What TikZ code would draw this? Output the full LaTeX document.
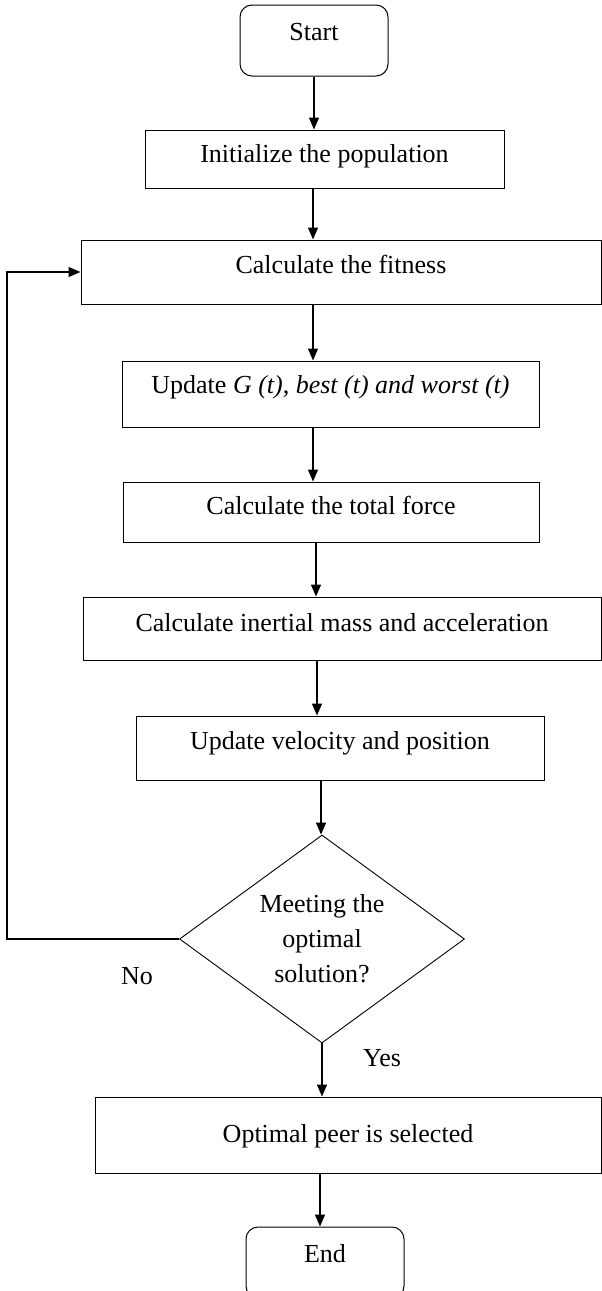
\documentclass[tikz,border=0pt]{standalone}
\usepackage{fontspec}
\setmainfont{Liberation Serif}
\usetikzlibrary{shapes.geometric,arrows.meta}

\begin{document}
\begin{tikzpicture}[x=1pt, y=-1pt,
  every node/.style={font=\fontsize{26}{35}\selectfont},
  procbox/.style={draw, line width=1pt, inner sep=0pt, text height=20pt},
  termbox/.style={procbox, rounded corners=12pt},
  arr/.style={line width=1.4pt, -{Triangle[length=12pt,width=10pt]}}]
  \clip (0,0) rectangle (602,1291);
  \node[termbox, minimum width=148pt, minimum height=71pt, text depth=20pt] (start) at (314,40.5) {Start};
  \node[procbox, minimum width=359pt, minimum height=58pt, text depth=13pt] (init) at (324.5,159) {Initialize the population};
  \node[procbox, minimum width=520pt, minimum height=64pt, text depth=18pt] (fit) at (341,272) {Calculate the fitness};
  \node[procbox, minimum width=417pt, minimum height=66pt, text depth=22pt] (upd) at (330.5,394) {Update \textit{G (t), best (t) and worst (t)}};
  \node[procbox, minimum width=416pt, minimum height=60pt, text depth=15pt] (force) at (331,512) {Calculate the total force};
  \node[procbox, minimum width=518pt, minimum height=63pt, text depth=15pt] (mass) at (342,628.5) {Calculate inertial mass and acceleration};
  \node[procbox, minimum width=408pt, minimum height=64pt, text depth=17pt] (vel) at (340,748) {Update velocity and position};
  \node[draw, diamond, line width=0.9pt, inner sep=0pt, aspect=1.37, align=center,
        minimum width=285pt, minimum height=208pt] (dec) at (322,939) {Meeting the\\optimal\\solution?};
  \node[procbox, minimum width=506pt, minimum height=76pt, text depth=5pt] (peer) at (348,1135) {Optimal peer is selected};
  \node[termbox, minimum width=158pt, minimum height=71pt, text depth=20pt] (end) at (325,1262.5) {End};
  \node (no) at (137,976) {No};
  \node (yes) at (382,1058) {Yes};
  \coordinate (loop) at (7,939);
  % main flow
  \draw[arr] (start.south) -- (start.south |- init.north);
  \draw[arr] (init.south -| 313,0) -- (fit.north -| 313,0);
  \draw[arr] (fit.south -| 313,0) -- (upd.north -| 313,0);
  \draw[arr] (upd.south -| 313,0) -- (force.north -| 313,0);
  \draw[arr] (force.south -| 316,0) -- (mass.north -| 316,0);
  \draw[arr] (mass.south -| 317,0) -- (vel.north -| 317,0);
  \draw[arr] (vel.south -| 321,0) -- (dec.north -| 321,0);
  \draw[arr] (dec.south) -- (dec.south |- peer.north);
  \draw[arr] (peer.south -| 320,0) -- (end.north -| 320,0);
  % back to fitness
  \draw[arr] (dec.west) -- (loop) |- (fit.west);
\end{tikzpicture}
\end{document}
